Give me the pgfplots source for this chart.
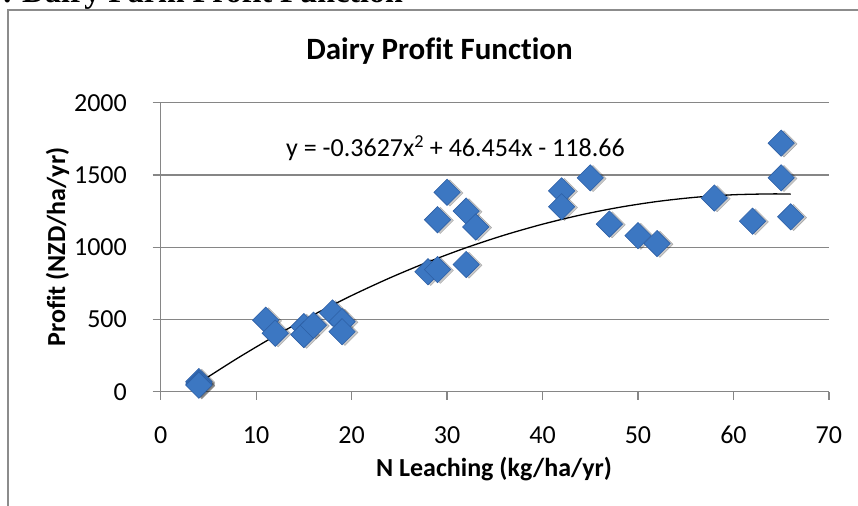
\documentclass[border=0pt]{standalone}
\usepackage{fontspec}
\setmainfont{Carlito}[Ligatures=NoCommon]
\newfontfamily\headfont{Liberation Serif}
\usepackage{pgfplots}
\usepackage{pgfplotstable}
\pgfplotsset{compat=1.18}
\definecolor{gridgray}{RGB}{134,134,134}
\definecolor{frameg}{RGB}{140,140,140}
\definecolor{mblue}{RGB}{60,119,194}
\definecolor{mblueedge}{RGB}{45,95,165}
\newcommand\fs{\fontsize{26bp}{30bp}\selectfont}

\pgfplotstableread{
x y
4 70
4 60
4 50
4 45
11 495
12 405
15 450
15 395
16 460
18 545
19 485
19 415
28 830
29 845
29 1190
30 1380
32 1250
32 880
33 1140
42 1390
42 1280
45 1480
47 1160
50 1080
52 1025
58 1340
62 1180
65 1720
65 1480
66 1210
}\datatable

\begin{document}
\begin{tikzpicture}
\path[use as bounding box] (0,0) rectangle (858bp,506bp);
\draw[frameg, line width=2bp] (8bp,-2bp) -- (8bp,496bp) -- (862bp,496bp);
\node[anchor=base east, inner sep=0pt, font=\headfont\bfseries\fontsize{32bp}{36bp}\selectfont] at (403bp,503bp) {. Dairy Farm Profit Function};
\node[anchor=base, inner sep=0pt, font=\bfseries\fontsize{31bp}{36bp}\selectfont] at (439.5bp,446bp) {Dairy Profit Function};
\node[anchor=base, inner sep=0pt, font=\bfseries\fs] at (494bp,30bp) {N Leaching (kg/ha/yr)};
\node[anchor=base, rotate=90, inner sep=0pt, font=\bfseries\fs] at (65bp,259bp) {Profit (NZD/ha/yr)};
\begin{axis}[
 at={(160.7bp,114.3bp)}, anchor=south west,
 scale only axis, width=668.2bp, height=289bp,
 xmin=0, xmax=70, ymin=0, ymax=2000,
 xtick={0,10,...,70}, ytick={0,500,...,2000},
 axis x line*=bottom, axis y line*=left,
 axis line style={gridgray, line width=1.3bp},
 ymajorgrids, grid style={gridgray, line width=1.3bp},
 tick style={gridgray, line width=1.3bp},
 tick align=outside, major tick length=8bp,
 /pgf/number format/assume math mode=true,
 /pgf/number format/set thousands separator={},
 tick label style={font=\fs, inner sep=0pt},
 xticklabel style={anchor=base, yshift=-43.3bp},
 yticklabel style={anchor=east, xshift=-25.7bp},
 clip=false,
]
\addplot[only marks, mark=square*, mark size=9.3bp, mark options={rotate=45, fill=black, draw=none, opacity=0.22, xshift=1.5bp, yshift=-2.5bp}] table[x=x,y=y] {\datatable};
\addplot[only marks, mark=square*, mark size=9.3bp, mark options={rotate=45, fill=mblue, draw=mblueedge, line width=0.6bp}] table[x=x,y=y] {\datatable};
\addplot[black, line width=1.3bp, smooth] coordinates {
(4,61.35) (8,229.76) (12,386.56) (16,531.75) (20,665.34) (24,787.32) (28,897.70) (32,996.46) (36,1083.63) (40,1159.18) (44,1223.13) (48,1275.47) (52,1316.21) (56,1345.34) (60,1362.86) (64,1368.78) (66,1367.38)
};
\node[anchor=base, inner sep=0pt, font=\fs] at (axis cs:30.88,1631) {y = -0.3627x\textsuperscript{2} + 46.454x - 118.66};
\end{axis}
\end{tikzpicture}
\end{document}
